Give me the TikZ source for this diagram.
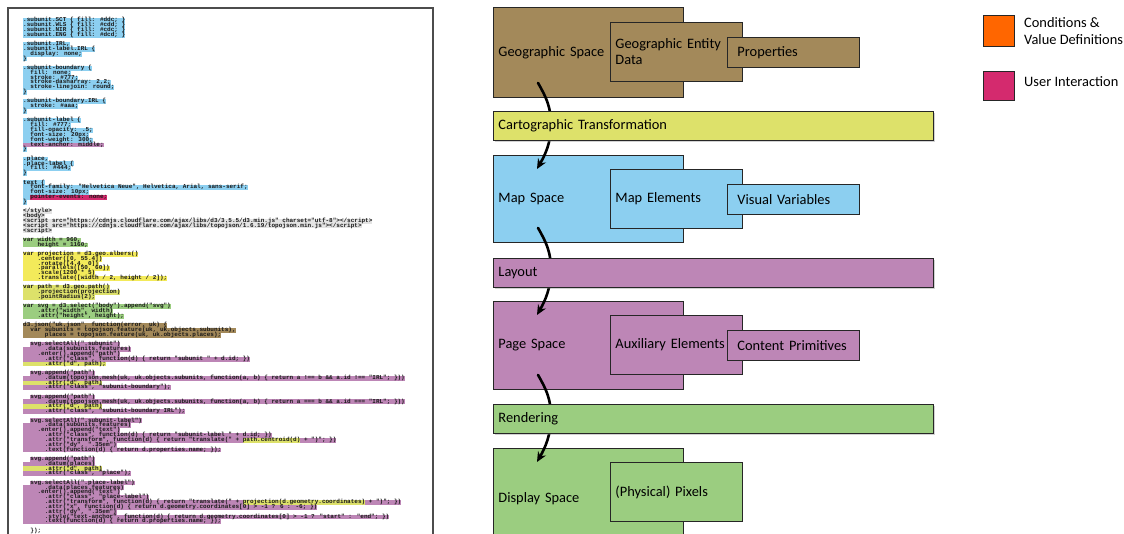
\documentclass[tikz,border=0pt]{standalone}
\usepackage{fontspec}
\setmainfont{Carlito}
\newfontfamily\codefont{Liberation Mono}
\usetikzlibrary{positioning, arrows.meta, shadows}

\definecolor{geobrown}{RGB}{163,137,90}
\definecolor{transyellow}{RGB}{221,225,106}
\definecolor{projyellow}{RGB}{243,234,90}
\definecolor{mapblue}{RGB}{140,207,240}
\definecolor{layoutpurple}{RGB}{189,134,182}
\definecolor{rendergreen}{RGB}{155,205,128}
\definecolor{condorange}{RGB}{255,102,0}
\definecolor{userpink}{RGB}{212,42,110}
\definecolor{codegray}{RGB}{228,228,228}

% one highlighted line of the listing
\newcommand\hl[2]{{\setlength{\fboxsep}{0pt}\colorbox{#1}{\rule[-1.25pt]{0pt}{4.85pt}\smash{#2}}}}
\newcommand\nohl[1]{\rule[-1.25pt]{0pt}{4.85pt}\smash{#1}}

\begin{document}
\begin{tikzpicture}[
    x=1pt, y=-1pt,
    code/.style={inner sep=0pt, align=left, text=black!90,
      font=\codefont\bfseries\fontsize{6}{4.85}\selectfont},
    nextcode/.style={code, below right=4pt and 0pt of #1.south west},
    box/.style={draw=black!85, line width=0.9pt, anchor=north west,
      align=left, font=\fontsize{14.4}{16}\selectfont},
    space/.style={box, minimum width=190pt, inner xsep=5pt, text width=180pt},
    midbox/.style={box, minimum width=132pt, minimum height=59pt, inner xsep=5pt, text width=122pt},
    smallbox/.style={box, minimum width=132pt, minimum height=30pt, inner xsep=10pt, text width=112pt},
    bar/.style={box, minimum width=440pt, minimum height=29pt, inner xsep=5pt, text width=430pt,
      drop shadow={opacity=0.35, shadow xshift=1.5pt, shadow yshift=-1.5pt}},
    flow/.style={line width=2.6pt, line cap=round, -{Stealth[length=10pt,width=9pt]}},
    legbox/.style={draw=black!85, line width=1pt, minimum size=31pt, inner sep=0pt, anchor=north west},
    legtext/.style={inner sep=0pt, align=left, font=\fontsize{14.4}{17}\selectfont}
  ]
  \path[use as bounding box, fill=white] (0,0) rectangle (1124,533);

  % listing
  \node[draw=black!70, line width=1.5pt, minimum width=425pt, minimum height=560pt,
    anchor=north west, inner sep=0pt] (listing) at (7,7) {};
  \node[code, anchor=north west] (c1) at (23,18) {%
    \hl{mapblue}{.subunit.SCT \{ fill: \#ddc; \}}\\
    \hl{mapblue}{.subunit.WLS \{ fill: \#cdd; \}}\\
    \hl{mapblue}{.subunit.NIR \{ fill: \#cdc; \}}\\
    \hl{mapblue}{.subunit.ENG \{ fill: \#dcd; \}}};
  \node[nextcode=c1] (c2) {%
    \hl{mapblue}{.subunit.IRL,}\\
    \hl{mapblue}{.subunit-label.IRL \{}\\
    \hl{mapblue}{\ \ display: none;}\\
    \hl{mapblue}{\}}};
  \node[nextcode=c2] (c3) {%
    \hl{mapblue}{.subunit-boundary \{}\\
    \hl{mapblue}{\ \ fill: none;}\\
    \hl{mapblue}{\ \ stroke: \#777;}\\
    \hl{mapblue}{\ \ stroke-dasharray: 2,2;}\\
    \hl{mapblue}{\ \ stroke-linejoin: round;}\\
    \hl{mapblue}{\}}};
  \node[nextcode=c3] (c4) {%
    \hl{mapblue}{.subunit-boundary.IRL \{}\\
    \hl{mapblue}{\ \ stroke: \#aaa;}\\
    \hl{mapblue}{\}}};
  \node[nextcode=c4] (c5) {%
    \hl{mapblue}{.subunit-label \{}\\
    \hl{mapblue}{\ \ fill: \#777;}\\
    \hl{mapblue}{\ \ fill-opacity: .5;}\\
    \hl{mapblue}{\ \ font-size: 20px;}\\
    \hl{mapblue}{\ \ font-weight: 300;}\\
    \hl{layoutpurple}{\ \ text-anchor: middle;}\\
    \hl{mapblue}{\}}};
  \node[nextcode=c5] (c6) {%
    \hl{mapblue}{.place,}\\
    \hl{mapblue}{.place-label \{}\\
    \hl{mapblue}{\ \ fill: \#444;}\\
    \hl{mapblue}{\}}};
  \node[nextcode=c6] (c7) {%
    \hl{mapblue}{text \{}\\
    \hl{mapblue}{\ \ font-family: "Helvetica Neue", Helvetica, Arial, sans-serif;}\\
    \hl{mapblue}{\ \ font-size: 10px;}\\
    \hl{mapblue}{\ \ }\hl{userpink}{pointer-events: none;}\\
    \hl{mapblue}{\}}};
  \node[nextcode=c7] (c8) {%
    \hl{codegray}{</style>}\\
    \hl{codegray}{<body>}\\
    \hl{codegray}{<script src="https://cdnjs.cloudflare.com/ajax/libs/d3/3.5.5/d3.min.js" charset="utf-8"></script>}\\
    \hl{codegray}{<script src="https://cdnjs.cloudflare.com/ajax/libs/topojson/1.6.19/topojson.min.js"></script>}\\
    \hl{codegray}{<script>}};
  \node[nextcode=c8] (c9) {%
    \hl{rendergreen}{var width = 960,}\\
    \hl{rendergreen}{\ \ \ \ height = 1160;}};
  \node[nextcode=c9] (c10) {%
    \hl{projyellow}{var projection = d3.geo.albers()}\\
    \hl{projyellow}{\ \ \ \ .center([0, 55.4])}\\
    \hl{projyellow}{\ \ \ \ .rotate([4.4, 0])}\\
    \hl{projyellow}{\ \ \ \ .parallels([50, 60])}\\
    \hl{projyellow}{\ \ \ \ .scale(1200 * 5)}\\
    \hl{projyellow}{\ \ \ \ .translate([width / 2, height / 2]);}};
  \node[nextcode=c10] (c11) {%
    \hl{transyellow}{var path = d3.geo.path()}\\
    \hl{transyellow}{\ \ \ \ .projection(projection)}\\
    \hl{transyellow}{\ \ \ \ .pointRadius(2);}};
  \node[nextcode=c11] (c12) {%
    \hl{rendergreen}{var svg = d3.select("body").append("svg")}\\
    \hl{rendergreen}{\ \ \ \ .attr("width", width)}\\
    \hl{rendergreen}{\ \ \ \ .attr("height", height);}};
  \node[nextcode=c12] (c13) {%
    \hl{geobrown}{d3.json("uk.json", function(error, uk) \{}\\
    \hl{geobrown}{\ \ var subunits = topojson.feature(uk, uk.objects.subunits),}\\
    \hl{geobrown}{\ \ \ \ \ \ places = topojson.feature(uk, uk.objects.places);}};
  \node[nextcode=c13] (c14) {%
    \ \ \hl{layoutpurple}{svg.selectAll(".subunit")}\\
    \hl{layoutpurple}{\ \ \ \ \ \ .data(subunits.features)}\\
    \hl{layoutpurple}{\ \ \ \ .enter().append("path")}\\
    \hl{layoutpurple}{\ \ \ \ \ \ .attr("class", function(d) \{ return "subunit " + d.id; \})}\\
    \hl{transyellow}{\ \ \ \ \ \ .attr("d", path);}};
  \node[nextcode=c14] (c15) {%
    \ \ \hl{layoutpurple}{svg.append("path")}\\
    \hl{layoutpurple}{\ \ \ \ \ \ .datum(topojson.mesh(uk, uk.objects.subunits, function(a, b) \{ return a !== b \&\& a.id !== "IRL"; \}))}\\
    \hl{transyellow}{\ \ \ \ \ \ .attr("d", path)}\\
    \hl{layoutpurple}{\ \ \ \ \ \ .attr("class", "subunit-boundary");}};
  \node[nextcode=c15] (c16) {%
    \ \ \hl{layoutpurple}{svg.append("path")}\\
    \hl{layoutpurple}{\ \ \ \ \ \ .datum(topojson.mesh(uk, uk.objects.subunits, function(a, b) \{ return a === b \&\& a.id === "IRL"; \}))}\\
    \hl{transyellow}{\ \ \ \ \ \ .attr("d", path)}\\
    \hl{layoutpurple}{\ \ \ \ \ \ .attr("class", "subunit-boundary IRL");}};
  \node[nextcode=c16] (c17) {%
    \ \ \hl{layoutpurple}{svg.selectAll(".subunit-label")}\\
    \hl{layoutpurple}{\ \ \ \ \ \ .data(subunits.features)}\\
    \hl{layoutpurple}{\ \ \ \ .enter().append("text")}\\
    \hl{layoutpurple}{\ \ \ \ \ \ .attr("class", function(d) \{ return "subunit-label " + d.id; \})}\\
    \hl{layoutpurple}{\ \ \ \ \ \ .attr("transform", function(d) \{ return "translate(" + }\hl{transyellow}{path.centroid(d)}\hl{layoutpurple}{ + ")"; \})}\\
    \hl{layoutpurple}{\ \ \ \ \ \ .attr("dy", ".35em")}\\
    \hl{layoutpurple}{\ \ \ \ \ \ .text(function(d) \{ return d.properties.name; \});}};
  \node[nextcode=c17] (c18) {%
    \ \ \hl{layoutpurple}{svg.append("path")}\\
    \hl{layoutpurple}{\ \ \ \ \ \ .datum(places)}\\
    \hl{transyellow}{\ \ \ \ \ \ .attr("d", path)}\\
    \hl{layoutpurple}{\ \ \ \ \ \ .attr("class", "place");}};
  \node[nextcode=c18] (c19) {%
    \ \ \hl{layoutpurple}{svg.selectAll(".place-label")}\\
    \hl{layoutpurple}{\ \ \ \ \ \ .data(places.features)}\\
    \hl{layoutpurple}{\ \ \ \ .enter().append("text")}\\
    \hl{layoutpurple}{\ \ \ \ \ \ .attr("class", "place-label")}\\
    \hl{layoutpurple}{\ \ \ \ \ \ .attr("transform", function(d) \{ return "translate(" + }\hl{transyellow}{projection(d.geometry.coordinates)}\hl{layoutpurple}{ + ")"; \})}\\
    \hl{layoutpurple}{\ \ \ \ \ \ .attr("x", function(d) \{ return d.geometry.coordinates[0] > -1 ? 6 : -6; \})}\\
    \hl{layoutpurple}{\ \ \ \ \ \ .attr("dy", ".35em")}\\
    \hl{layoutpurple}{\ \ \ \ \ \ .style("text-anchor", function(d) \{ return d.geometry.coordinates[0] > -1 ? "start" : "end"; \})}\\
    \hl{layoutpurple}{\ \ \ \ \ \ .text(function(d) \{ return d.properties.name; \});}};
  \node[nextcode=c19] (c20) {\nohl{\ \ \});}};

  % spaces
  \node[space, fill=geobrown, minimum height=90pt] (geo) at (493,7) {Geographic Space};
  \node[midbox, fill=geobrown] (geodata) at ([xshift=117pt,yshift=-15pt]geo.north west) {Geographic Entity\\Data};
  \node[smallbox, fill=geobrown] (props) at ([xshift=117pt,yshift=-15pt]geodata.north west) {Properties};

  \node[space, fill=mapblue, minimum height=87pt] (map) at (493,155) {Map Space};
  \node[midbox, fill=mapblue] (mapel) at ([xshift=117pt,yshift=-14pt]map.north west) {Map Elements};
  \node[smallbox, fill=mapblue] (visvar) at ([xshift=117pt,yshift=-15pt]mapel.north west) {Visual Variables};

  \node[space, fill=layoutpurple, minimum height=88pt] (page) at (493,301) {Page Space};
  \node[midbox, fill=layoutpurple] (aux) at ([xshift=117pt,yshift=-14pt]page.north west) {Auxiliary Elements};
  \node[smallbox, fill=layoutpurple] (prim) at ([xshift=117pt,yshift=-15pt]aux.north west) {Content Primitives};

  \node[space, fill=rendergreen, minimum height=100pt] (disp) at (493,448) {Display Space};
  \node[midbox, fill=rendergreen] (pixels) at ([xshift=117pt,yshift=-14pt]disp.north west) {(Physical) Pixels};

  % transformations
  \foreach \a/\b in {geo/map, map/page, page/disp}{
    \draw[flow] ([xshift=45pt,yshift=15pt]\a.south west)
      .. controls +(8,14) and +(0,-18) .. ([xshift=58pt,yshift=-27pt]\a.south west)
      .. controls +(0,18) and +(8,-14) .. ([xshift=44pt,yshift=-14pt]\b.north west);
  }
  \node[bar, fill=transyellow, below right=13pt and 0pt of geo.south west] (carto) {Cartographic Transformation};
  \node[bar, fill=layoutpurple, below right=15pt and 0pt of map.south west] (layout) {Layout};
  \node[bar, fill=rendergreen, below right=14pt and 0pt of page.south west] (render) {Rendering};

  % legend
  \node[legbox, fill=condorange] (cond) at (983,15) {};
  \node[legtext, right=9pt of cond] (condtext) {Conditions \&\\Value Definitions};
  \node[legbox, fill=userpink, minimum height=29pt] (user) at (983,71) {};
  \node[legtext, right=9pt of user, yshift=4pt] (usertext) {User Interaction};
\end{tikzpicture}
\end{document}
